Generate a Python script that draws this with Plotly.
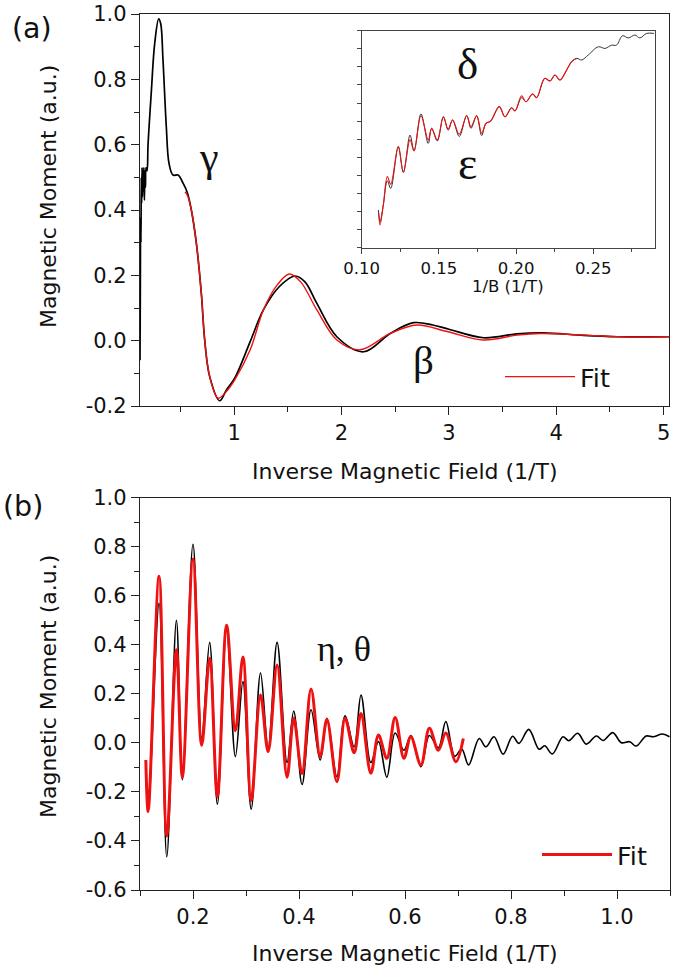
import plotly.graph_objects as go

# ---------------- data ----------------
# Panel (a): main curve, black = data, red = fit
top_black_x = [0.124, 0.127, 0.130, 0.133, 0.136, 0.140, 0.143, 0.147, 0.151, 0.155,
               0.160, 0.165, 0.170, 0.175, 0.180, 0.190, 0.199, 0.229, 0.261, 0.298,
               0.317, 0.338, 0.369, 0.394, 0.431, 0.478, 0.525, 0.565, 0.602, 0.649,
               0.695, 0.727, 0.773, 0.866, 0.930, 1.006, 1.150, 1.273, 1.420, 1.568,
               1.660, 1.771, 1.957, 2.205, 2.454, 2.671, 2.850, 3.000, 3.323, 3.635,
               3.880, 4.255, 4.566, 5.050]
top_black_y = [-0.06, 0.15, 0.38, 0.30, 0.50, 0.42, 0.53, 0.44, 0.52, 0.46,
               0.53, 0.43, 0.52, 0.47, 0.53, 0.52, 0.60, 0.76, 0.91, 0.985,
               0.97, 0.86, 0.655, 0.543, 0.507, 0.507, 0.482, 0.453, 0.40, 0.298,
               0.145, 0.0, -0.11, -0.184, -0.15, -0.115, -0.003, 0.094, 0.165, 0.198,
               0.18, 0.114, 0.012, -0.034, 0.022, 0.055, 0.048, 0.035, 0.009, 0.021,
               0.024, 0.016, 0.012, 0.012]
top_fit_x = [0.543, 0.565, 0.602, 0.649, 0.695, 0.727, 0.773, 0.851, 0.930, 1.006,
             1.150, 1.273, 1.400, 1.515, 1.620, 1.771, 1.957, 2.174, 2.454, 2.703,
             2.982, 3.323, 3.635, 3.852, 4.255, 4.566, 5.050]
top_fit_y = [0.455, 0.445, 0.40, 0.298, 0.145, 0.0, -0.11, -0.176, -0.155, -0.12,
             -0.028, 0.094, 0.17, 0.204, 0.18, 0.094, 0.002, -0.028, 0.022, 0.048,
             0.028, 0.002, 0.017, 0.022, 0.017, 0.012, 0.012]

# Inset of panel (a): 1/B vs moment (arbitrary units)
inset_x = [0.1108, 0.1119, 0.1140, 0.1166, 0.1188, 0.1237, 0.1270, 0.1313, 0.1339, 0.1384,
           0.1431, 0.1453, 0.1490, 0.1529, 0.1560, 0.1589, 0.1632, 0.1680, 0.1708, 0.1745,
           0.1777, 0.1805, 0.1835, 0.1891, 0.1928, 0.1971, 0.1993, 0.2036, 0.2064, 0.2107,
           0.2133, 0.2172, 0.2187, 0.2220, 0.2252, 0.2284, 0.2328, 0.2360, 0.2393, 0.2425,
           0.2468, 0.2533, 0.2576, 0.2619, 0.2650, 0.2690, 0.2727, 0.2770, 0.2802, 0.2846,
           0.2893]
inset_black_y = [0.208, 0.144, 0.236, 0.370, 0.328, 0.559, 0.417, 0.623, 0.535, 0.740,
                 0.577, 0.660, 0.590, 0.724, 0.650, 0.706, 0.615, 0.730, 0.660, 0.730,
                 0.620, 0.688, 0.700, 0.780, 0.724, 0.774, 0.756, 0.830, 0.807, 0.850,
                 0.830, 0.918, 0.937, 0.922, 0.955, 0.927, 0.983, 1.029, 1.047, 1.038,
                 1.066, 1.111, 1.102, 1.120, 1.120, 1.172, 1.160, 1.176, 1.160, 1.185,
                 1.185]
inset_fit_x = [0.1110, 0.1119, 0.1140, 0.1166, 0.1188, 0.1237, 0.1270, 0.1313, 0.1339, 0.1384,
               0.1431, 0.1453, 0.1490, 0.1529, 0.1560, 0.1589, 0.1632, 0.1680, 0.1708, 0.1745,
               0.1777, 0.1805, 0.1835, 0.1891, 0.1928, 0.1971, 0.1993, 0.2036, 0.2064, 0.2107,
               0.2133, 0.2172, 0.2187, 0.2220, 0.2252, 0.2284, 0.2328, 0.2360, 0.2395]
inset_fit_y = [0.190, 0.126, 0.236, 0.393, 0.351, 0.559, 0.417, 0.596, 0.535, 0.730,
               0.596, 0.660, 0.596, 0.724, 0.656, 0.706, 0.627, 0.730, 0.669, 0.730,
               0.633, 0.688, 0.700, 0.780, 0.724, 0.774, 0.756, 0.840, 0.807, 0.850,
               0.830, 0.918, 0.937, 0.922, 0.955, 0.927, 0.983, 1.029, 1.047]

# Panel (b)
bot_black_x = [0.111, 0.1154, 0.136, 0.1505, 0.1687, 0.180, 0.200, 0.2164, 0.2314, 0.246,
               0.2634, 0.280, 0.2942, 0.3098, 0.3274, 0.3418, 0.3587, 0.3775, 0.390, 0.4058,
               0.4227, 0.440, 0.4527, 0.4715, 0.487, 0.504, 0.517, 0.5356, 0.550, 0.5657,
               0.5814, 0.598, 0.611, 0.630, 0.646, 0.663, 0.677,
               0.694, 0.707, 0.720, 0.740, 0.7526, 0.768, 0.785, 0.803, 0.815, 0.8335,
               0.853, 0.8636, 0.878, 0.898, 0.909, 0.926, 0.942, 0.961, 0.974, 0.992,
               1.008, 1.024, 1.036, 1.055, 1.068, 1.086, 1.099]
bot_black_y = [-0.07, -0.28, 0.57, -0.465, 0.50, -0.15, 0.81, 0.02, 0.41, -0.25,
               0.47, -0.056, 0.25, -0.27, 0.285, -0.02, 0.41, -0.08, 0.13, -0.17,
               0.135, -0.07, 0.10, -0.138, 0.11, -0.016, 0.195, -0.08, 0.005, -0.14,
               0.04, -0.03, 0.03, -0.097, 0.03, -0.02, 0.087,
               -0.055, -0.025, -0.09, 0.018, -0.016, 0.025, -0.046, 0.027, -0.002, 0.055,
               -0.026, -0.012, -0.045, 0.025, 0.009, 0.039, -0.005, 0.028, 0.01, 0.042,
               0.001, 0.005, -0.013, 0.028, 0.025, 0.036, 0.025]
bot_fit_x = [0.111, 0.1154, 0.136, 0.1505, 0.1687, 0.180, 0.200, 0.2164, 0.2314, 0.246,
             0.2634, 0.280, 0.2942, 0.3098, 0.3274, 0.3418, 0.3587, 0.3775, 0.390, 0.4058,
             0.4227, 0.440, 0.4527, 0.4715, 0.487, 0.504, 0.517, 0.5356, 0.550, 0.5657,
             0.5814, 0.598, 0.611, 0.630, 0.646, 0.663, 0.677, 0.696, 0.710]
bot_fit_y = [-0.07, -0.28, 0.68, -0.38, 0.38, -0.14, 0.75, -0.01, 0.345, -0.22,
             0.48, 0.05, 0.35, -0.235, 0.195, -0.036, 0.318, -0.14, 0.10, -0.125,
             0.22, -0.056, 0.095, -0.158, 0.10, -0.04, 0.12, -0.124, 0.032, -0.063,
             0.104, -0.063, 0.025, -0.09, 0.06, -0.03, 0.04, -0.077, 0.018]

# tick values / labels
top_y_ticks = [-0.2, 0.0, 0.2, 0.4, 0.6, 0.8, 1.0]
top_y_labels = ["-0.2", "0.0", "0.2", "0.4", "0.6", "0.8", "1.0"]
bot_y_ticks = [-0.6, -0.4, -0.2, 0.0, 0.2, 0.4, 0.6, 0.8, 1.0]
bot_y_labels = ["-0.6", "-0.4", "-0.2", "0.0", "0.2", "0.4", "0.6", "0.8", "1.0"]

# ---------------- figure ----------------
W, H = 675, 972
RED = "#ee1111"
INK = "#222222"
SANS = "DejaVu Sans"
SERIF = "Liberation Serif"


def fx(p):
    return p / W


def fy(p):
    return 1 - p / H


fig = go.Figure()
fig.add_trace(go.Scatter(x=top_black_x, y=top_black_y, mode="lines", showlegend=False,
                         line=dict(color="black", width=1.7, shape="spline"), xaxis="x", yaxis="y"))
fig.add_trace(go.Scatter(x=top_fit_x, y=top_fit_y, mode="lines", name="Fit", legend="legend",
                         line=dict(color=RED, width=1.4, shape="spline"), xaxis="x", yaxis="y"))
fig.add_trace(go.Scatter(x=inset_x, y=inset_black_y, mode="lines", showlegend=False,
                         line=dict(color="#333333", width=1.0, shape="spline"), xaxis="x2", yaxis="y2"))
fig.add_trace(go.Scatter(x=inset_fit_x, y=inset_fit_y, mode="lines", showlegend=False,
                         line=dict(color=RED, width=1.1, shape="spline"), xaxis="x2", yaxis="y2"))
fig.add_trace(go.Scatter(x=bot_black_x, y=bot_black_y, mode="lines", showlegend=False,
                         line=dict(color="black", width=1.6, shape="spline"), xaxis="x3", yaxis="y3"))
fig.add_trace(go.Scatter(x=bot_fit_x, y=bot_fit_y, mode="lines", name="Fit", legend="legend2",
                         line=dict(color=RED, width=3.0, shape="spline"), xaxis="x3", yaxis="y3"))

tickfont = dict(family=SANS, size=21, color="#111111")
small_font = dict(family=SANS, size=16.5, color="#111111")


def base_axis(**kw):
    d = dict(showline=True, linecolor=INK, linewidth=1.3, mirror=True, ticks="outside",
             ticklen=8, tickwidth=1.3, tickcolor=INK, showgrid=False, zeroline=False,
             tickfont=tickfont, fixedrange=True, automargin=False)
    d.update(kw)
    return d


def overlay_axis(**kw):
    d = dict(showline=False, ticks="inside", ticklen=7, tickwidth=1.3, tickcolor=INK,
             showticklabels=False, showgrid=False, zeroline=False, fixedrange=True,
             automargin=False)
    d.update(kw)
    return d


minor_main = dict(ticks="outside", ticklen=5, tickwidth=1.3, tickcolor=INK, tickmode="linear", tick0=0)

layout = dict(
    width=W, height=H, margin=dict(l=0, r=0, t=0, b=0, pad=0, autoexpand=False),
    paper_bgcolor="white", plot_bgcolor="white",
    # panel (a)
    xaxis=base_axis(domain=[fx(140), fx(669)], anchor="y", range=[0.124, 5.05], tick0=0, dtick=1,
                    minor=dict(dtick=0.5, **minor_main)),
    yaxis=base_axis(domain=[fy(406), fy(14)], anchor="x", range=[-0.2, 1.0],
                    tickmode="array", tickvals=top_y_ticks, ticktext=top_y_labels,
                    minor=dict(dtick=0.1, **minor_main)),
    xaxis4=overlay_axis(overlaying="x", side="top", anchor="y", range=[0, 529 / 59.0], tick0=0, dtick=1),
    yaxis4=overlay_axis(overlaying="y", side="right", anchor="x", range=[-0.518, 7.516], tick0=0, dtick=1),
    # inset
    xaxis2=base_axis(domain=[fx(361.7), fx(655)], anchor="y2", range=[0.10, 0.29], tick0=0, dtick=0.05,
                     tickformat=".2f", tickfont=small_font, linewidth=1.0, linecolor="#444444",
                     ticklen=5, tickwidth=1.0, tickcolor="#444444",
                     minor=dict(dtick=0.025, ticks="outside", ticklen=3, tickwidth=1.0, tickcolor="#444444")),
    yaxis2=base_axis(domain=[fy(247.7), fy(30.7)], anchor="x2", range=[0, 1.2], tick0=0, dtick=0.1,
                     showticklabels=False, linewidth=1.0, linecolor="#444444",
                     ticklen=4, tickwidth=1.0, tickcolor="#444444"),
    xaxis5=overlay_axis(overlaying="x2", side="top", anchor="y2", range=[0.10, 0.29], tick0=0, dtick=0.025,
                        ticklen=4, tickwidth=1.0, tickcolor="#444444"),
    yaxis5=overlay_axis(overlaying="y2", side="right", anchor="x2", range=[0, 16], tick0=0, dtick=1,
                        ticklen=4, tickwidth=1.0, tickcolor="#444444"),
    # panel (b)
    xaxis3=base_axis(domain=[fx(140), fx(670)], anchor="y3", range=[0.10, 1.10], tick0=0, dtick=0.2,
                     tickformat=".1f", minor=dict(dtick=0.1, **minor_main)),
    yaxis3=base_axis(domain=[fy(890), fy(497.7)], anchor="x3", range=[-0.6, 1.0],
                     tickmode="array", tickvals=bot_y_ticks, ticktext=bot_y_labels,
                     minor=dict(dtick=0.1, **minor_main)),
    xaxis6=overlay_axis(overlaying="x3", side="top", anchor="y3", range=[0.10, 1.10], tick0=0, dtick=0.1),
    yaxis6=overlay_axis(overlaying="y3", side="right", anchor="x3", range=[0, 10], tick0=0, dtick=1),
    legend=dict(x=fx(615), y=fy(377), xanchor="right", yanchor="middle", bgcolor="rgba(0,0,0,0)",
                itemwidth=70, font=dict(family=SANS, size=25.5, color="#111111")),
    legend2=dict(x=fx(652), y=fy(855), xanchor="right", yanchor="middle", bgcolor="rgba(0,0,0,0)",
                 itemwidth=70, font=dict(family=SANS, size=25.5, color="#111111")),
)
fig.update_layout(**layout)


def note(text, x, y, font, angle=0):
    fig.add_annotation(text=text, x=fx(x), y=fy(y), xref="paper", yref="paper",
                       xanchor="center", yanchor="middle", showarrow=False, font=font,
                       textangle=angle)


title_font = dict(family=SANS, size=22, color="#111111")
note("Inverse Magnetic Field (1/T)", 405, 471.6, title_font)
note("Inverse Magnetic Field (1/T)", 405, 953.3, title_font)
note("Magnetic Moment (a.u.)", 48.3, 196.7, title_font, angle=-90)
note("Magnetic Moment (a.u.)", 48.3, 686.7, title_font, angle=-90)
note("1/B (1/T)", 508.3, 286, small_font)
note("(a)", 31.7, 29, dict(family=SANS, size=28.5, color="#111111"))
note("(b)", 22.5, 506, dict(family=SANS, size=28.5, color="#111111"))
note("γ", 209, 156.6, dict(family=SERIF, size=42, color="#111111"))
note("δ", 467.5, 64.3, dict(family=SERIF, size=45, color="#111111"))
note("ε", 467.5, 163.9, dict(family=SERIF, size=46, color="#111111"))
note("β", 423.7, 359.7, dict(family=SERIF, size=41, color="#111111"))
note("η, θ", 344, 649, dict(family=SERIF, size=36, color="#111111"))

fig.write_html("out.html", config={"displayModeBar": False},
               post_script="document.body.style.margin='0px';")
